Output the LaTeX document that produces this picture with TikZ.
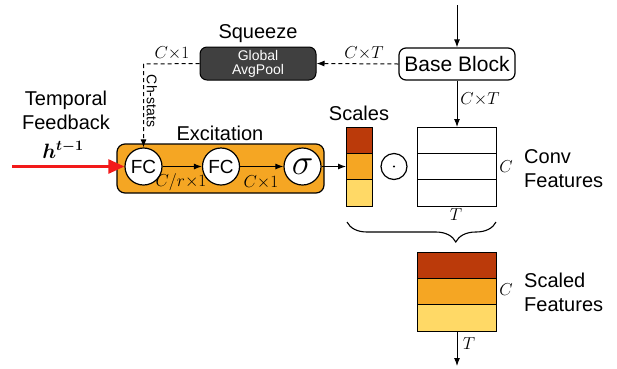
\documentclass[tikz,border=0pt]{standalone}
\usepackage{fontspec}
\usepackage{bm}
\usepackage{graphicx}
\setmainfont{Liberation Sans}
\usetikzlibrary{arrows.meta,decorations.pathreplacing}
\definecolor{darkred}{HTML}{BB3A0A}
\definecolor{midorange}{HTML}{F5A623}
\definecolor{lightyellow}{HTML}{FFD966}
\definecolor{poolgray}{HTML}{404040}
\definecolor{feedred}{HTML}{F21A1A}
\begin{document}
\begin{tikzpicture}[x=1pt,y=-1pt,
  lbl/.style={font=\fontsize{20}{24}\selectfont, inner sep=0pt},
  mlbl/.style={font=\fontsize{16}{18}\selectfont, inner sep=0pt},
  arr/.style={-{Latex[length=8pt,width=6pt]}, line width=1pt},
  dsh/.style={dash pattern=on 4pt off 3pt},
  fcnode/.style={circle, draw, line width=1.2pt, fill=white, minimum size=37pt, inner sep=0pt, font=\fontsize{19}{20}\selectfont},
  stack/.style={draw, line width=1.2pt, inner sep=0pt, anchor=north west}]
\useasboundingbox (0,0) rectangle (617,368);

% Base block and global pooling
\node[draw, line width=1.2pt, rounded corners=7pt, minimum width=116pt, minimum height=32pt, inner sep=0pt,
      font=\fontsize{21}{24}\selectfont] (base) at (457,64) {Base Block};
\node[fill=poolgray, draw=black, line width=1pt, rounded corners=7pt, minimum width=116pt, minimum height=33pt,
      inner sep=0pt, text=white, align=center, font=\fontsize{14}{14}\selectfont] (pool) at (258,63.5) {Global\\AvgPool};
\node[lbl] (squeeze) at (258,34) {Squeeze};

\coordinate (topin) at (457,5);
\draw[arr] (topin) -- (base.north);
\draw[arr,dsh] (base.west) -- (pool.east);
\node[mlbl] (cxt1) at (364,53) {$C{\times}T$};

% Excitation block
\node[fill=midorange, draw, line width=1.2pt, rounded corners=8pt, minimum width=207pt, minimum height=49pt, inner sep=0pt] (exc) at (220.5,168.5) {};
\node[lbl] (exclbl) at (220,133) {Excitation};
\node[fcnode] (fc1) at (143.5,166.5) {FC};
\node[fcnode] (fc2) at (221,166.5) {FC};
\node[fcnode] (sig) at (302.5,166.5) {\scalebox{2.1}{$\sigma$}};
\draw[arr] (fc1) -- (fc2);
\draw[arr] (fc2) -- (sig);
\node[mlbl] (crx1) at (181,182) {$C/r{\times}1$};
\node[mlbl] (cx1b) at (261,182) {$C{\times}1$};

% Channel statistics feed
\coordinate (corner) at (143.5,64);
\draw[arr,dsh] (pool.west) -- (corner) -- (fc1.north);
\node[mlbl] (cx1a) at (172,53) {$C{\times}1$};
\node[font=\fontsize{14}{14}\selectfont, inner sep=0pt, rotate=-90] (chstats) at (152,101) {Ch-stats};

% Temporal feedback
\node[lbl, align=center] (tfb) at (66,110) {Temporal\\Feedback};
\node[font=\fontsize{22}{22}\selectfont, inner sep=0pt] (hprev) at (63,150) {$\bm{h^{t-1}}$};
\coordinate (fbin) at (12,166.5);
\draw[-{Triangle[length=16pt,width=14pt]}, line width=2.6pt, feedred] (fbin) -- (fc1.west);

% Scales
\fill[darkred] (346,127) rectangle (372,153.33);
\fill[midorange] (346,153.33) rectangle (372,179.67);
\fill[lightyellow] (346,179.67) rectangle (372,206);
\node[stack, minimum width=26pt, minimum height=79pt] (scal) at (346,127) {};
\draw[line width=1.2pt] (346,153.33) -- (372,153.33) (346,179.67) -- (372,179.67);
\node[lbl] (scales) at (359,113) {Scales};
\draw[arr] (sig) -- (sig -| scal.west);

% Element-wise product
\node[circle, draw, line width=1.2pt, minimum size=26pt, inner sep=0pt] (prod) at (394,166.5) {};
\fill (prod.center) circle (1.2pt);

% Conv features
\node[stack, minimum width=79pt, minimum height=79pt] (conv) at (417,127) {};
\draw[line width=1.2pt] (417,153.33) -- (496,153.33) (417,179.67) -- (496,179.67);
\draw[arr] (base.south) -- (conv.north -| base.south);
\node[mlbl] (cxt2) at (480,99) {$C{\times}T$};
\node[mlbl] (cconv) at (506,167) {$C$};
\node[mlbl] (tconv) at (456,215) {$T$};
\node[lbl, align=left, anchor=west] (convlbl) at (524,169) {Conv\\Features};

% Brace over scales and features
\coordinate (brR) at (496,222);
\coordinate (brL) at (347,222);
\draw[line width=1.1pt, decorate, decoration={brace, amplitude=20pt, aspect=0.27}] (brR) -- (brL);

% Scaled features
\fill[darkred] (417,252) rectangle (496,278.33);
\fill[midorange] (417,278.33) rectangle (496,304.67);
\fill[lightyellow] (417,304.67) rectangle (496,331);
\node[stack, minimum width=79pt, minimum height=79pt] (outf) at (417,252) {};
\draw[line width=1.2pt] (417,278.33) -- (496,278.33) (417,304.67) -- (496,304.67);
\node[mlbl] (cout) at (506,290) {$C$};
\node[lbl, align=left, anchor=west] (scaledlbl) at (524,292) {Scaled\\Features};
\coordinate (outend) at (457,366);
\draw[arr] (outf.south -| outend) -- (outend);
\node[mlbl] (tout) at (469,344) {$T$};
\end{tikzpicture}
\end{document}
